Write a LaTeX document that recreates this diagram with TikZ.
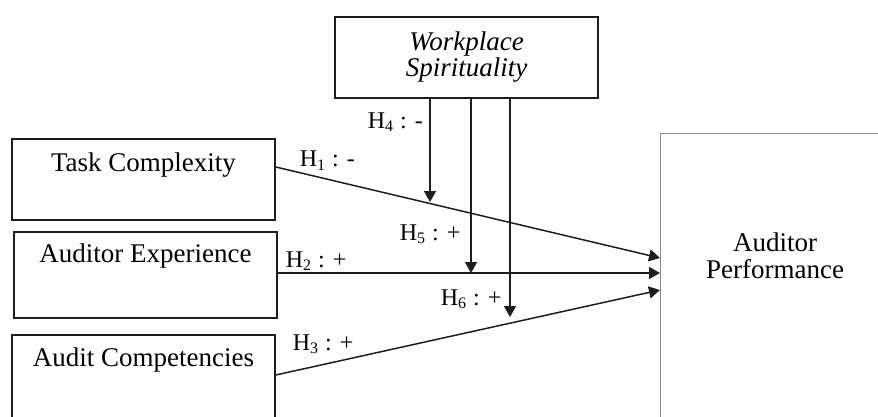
\documentclass[tikz,border=0pt]{standalone}
\usepackage{fontspec}
\setmainfont{Liberation Serif}
\usetikzlibrary{arrows.meta, positioning, calc}
\definecolor{cline}{HTML}{1E1E1E}
\definecolor{cgrey}{HTML}{8C8C8C}
\tikzset{
  every picture/.style={line width=0.8pt},
  box/.style={draw=cline, minimum width=131.5pt, inner sep=0pt},
  arrow/.style={-{Triangle[length=5.5pt, width=6pt]}, draw=cline, line width=0.75pt},
  hyp/.style={font=\fontsize{12}{13}\selectfont, anchor=base west, inner sep=0pt},
  varname/.style={font=\fontsize{13.5}{13.5}\selectfont, align=center, inner sep=0pt},
}
\begin{document}
\begin{tikzpicture}[x=0.5pt, y=-0.5pt]
  \useasboundingbox (0,0) rectangle (878,417);
  % constructs
  \node[box, minimum height=40.5pt] (tc) at (143.5,179.5) {};
  \node[box, minimum height=43pt] (ae) at (145.5,275) {};
  \node[box, minimum height=50pt] (ac) at (143.5,385) {};
  \node[box, minimum height=40.5pt, varname, font=\fontsize{13.5}{13}\selectfont\itshape] (ws) at (466.5,57.5) {Workplace\\Spirituality};
  \node[draw=cgrey, line width=0.6pt, anchor=north west, minimum width=130pt, minimum height=160pt] (ap) at (660,133) {};
  \node[varname, anchor=base] (tctext) at ($(tc.north)+(0,33)$) {Task Complexity};
  \node[varname, anchor=base] (aetext) at ($(ae.north)+(0,31)$) {Auditor Experience};
  \node[varname, anchor=base] (actext) at ($(ac.north)+(0,32)$) {Audit Competencies};
  \node[varname, font=\fontsize{13.5}{13.5}\selectfont] (aptext) at (775,256) {Auditor\\Performance};
  % direct paths
  \coordinate (p1) at ($(ap.north west)+(0,125)$);
  \coordinate (p2) at ($(ap.north west)+(0,140)$);
  \coordinate (p3) at ($(ap.north west)+(0,157)$);
  \draw[arrow] ($(tc.east)+(0,-12.5)$) -- (p1);
  \draw[arrow] ($(ae.east)+(0,-2)$) -- (p2);
  \draw[arrow] ($(ac.east)+(0,-10)$) -- (p3);
  % moderating paths
  \coordinate (w4) at ($(ws.south)+(-36.5,0)$);
  \coordinate (w5) at ($(ws.south)+(4.5,0)$);
  \coordinate (w6) at ($(ws.south)+(43.5,0)$);
  \coordinate (m4) at (w4 |- 0,202);
  \coordinate (m5) at (w5 |- p2);
  \coordinate (m6) at (w6 |- 0,317);
  \draw[arrow] (w4) -- (m4);
  \draw[arrow] (w5) -- (m5);
  \draw[arrow] (w6) -- (m6);
  % hypotheses
  \node[hyp] (h1) at (299,167) {H\textsubscript{1} : -};
  \node[hyp] (h2) at (285,267) {H\textsubscript{2} : +};
  \node[hyp] (h3) at (292,350) {H\textsubscript{3} : +};
  \node[hyp] (h4) at (367,128) {H\textsubscript{4} : -};
  \node[hyp] (h5) at (399,240) {H\textsubscript{5} : +};
  \node[hyp] (h6) at (440,305) {H\textsubscript{6} : +};
\end{tikzpicture}
\end{document}
